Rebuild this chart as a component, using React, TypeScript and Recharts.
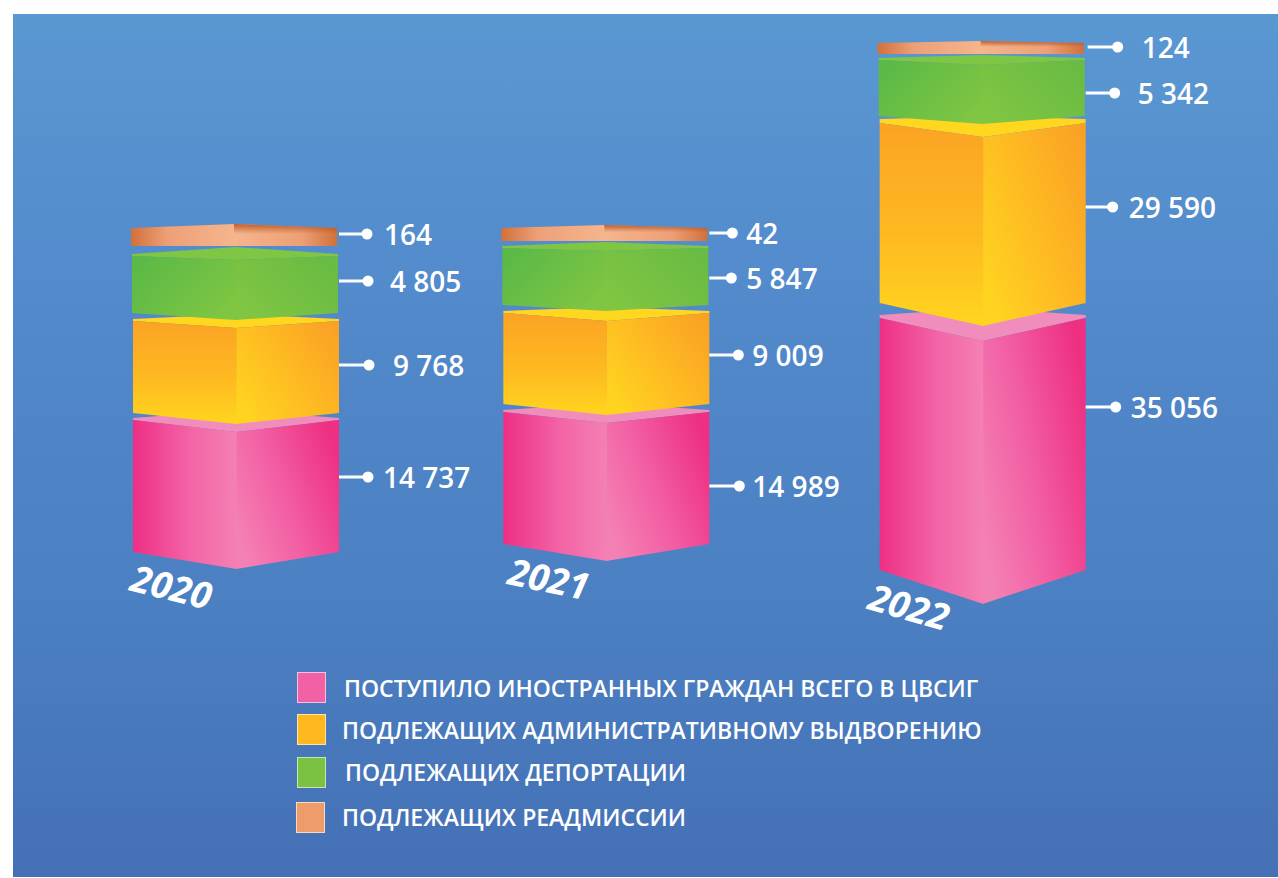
import React from 'react';
import { BarChart, Bar, XAxis, YAxis, Legend } from 'recharts';

const years = ['2020', '2021', '2022'];

// values printed next to the blocks
const receivedValues = [14737, 14989, 35056];
const expulsionValues = [9768, 9009, 29590];
const deportationValues = [4805, 5847, 5342];
const readmissionValues = [164, 42, 124];

// The source picture does not draw its blocks to scale, so block heights are
// read off the picture separately (axis units) instead of derived from the values.
const liftHeights = [48, 56, 30];
const receivedHeights = [134, 134, 255];
const expulsionGaps = [5, 6, 12];
const expulsionHeights = [94, 93, 184];
const deportationGaps = [6, 6, 3];
const deportationHeights = [59, 59, 58];
const readmissionGaps = [8, 5, 4];
const readmissionHeights = [18, 13, 11];

const legendLabels = [
  'ПОСТУПИЛО ИНОСТРАННЫХ ГРАЖДАН ВСЕГО В ЦВСИГ',
  'ПОДЛЕЖАЩИХ АДМИНИСТРАТИВНОМУ ВЫДВОРЕНИЮ',
  'ПОДЛЕЖАЩИХ ДЕПОРТАЦИИ',
  'ПОДЛЕЖАЩИХ РЕАДМИССИИ',
];

const data = years.map((year, i) => ({
  year,
  lift: liftHeights[i],
  received: receivedHeights[i],
  gapA: expulsionGaps[i],
  expulsion: expulsionHeights[i],
  gapB: deportationGaps[i],
  deportation: deportationHeights[i],
  gapC: readmissionGaps[i],
  readmission: readmissionHeights[i],
}));

const FONT = '"Open Sans", sans-serif';
const yearShift = [0, -3, 0];

const looks: Record<string, any> = {
  received: {
    values: receivedValues, id: 'pink', topFill: '#f08dbd', shift: 0, rim: [2, 2, 3],
    top: [14, 13, 26], bottom: [17, 17, 34], peak: [8, 7, 7],
    leaderDy: [-8, 9, -35.5], dotX: [29, 30, 30], textX: [44, 43, 45],
  },
  expulsion: {
    values: expulsionValues, id: 'orange', topFill: '#ffd71f', shift: 0, rim: [2, 2, 4],
    top: [9, 10, 18], bottom: [11, 11, 23], peak: [5, 4, 3],
    leaderDy: [-1, -2.5, -4], dotX: [30, 29, 27], textX: [54, 43, 43],
  },
  deportation: {
    values: deportationValues, id: 'green', topFill: '#7ec644', shift: -1, rim: [2, 2, 2],
    top: [6, 5, 7], bottom: [7, 6, 8], peak: [7, 4, 3],
    leaderDy: [-2.5, 2.5, 6], dotX: [29, 22, 29], textX: [51, 37, 52],
  },
  readmission: {
    values: readmissionValues, id: 'peach', topFill: '#f4ad82', shift: -2, rim: [0, 0, 0],
    top: [-4, -3, -2], bottom: [0, 0, 0], peak: [4, 3, 2],
    leaderDy: [-3, -1.5, -1.5], dotX: [28, 23, 32], textX: [45, 37, 56],
  },
};

const formatValue = (v: number) => String(v).replace(/\B(?=(\d{3})+$)/g, ' ');

const makeBlock = (key: string) => (props: any) => {
  const { x, y, width, height, index } = props;
  const look = looks[key];
  const left = x + yearShift[index] + look.shift;
  const right = left + width;
  const mid = left + width / 2;
  const bot = y + height;
  const rim = look.rim[index];
  const topV = y + look.top[index];
  const botV = bot + look.bottom[index];
  const lineY = y + height / 2 + look.leaderDy[index];
  const barRight = x + yearShift[index] + width;
  const value = look.values[index];
  return (
    <g>
      {look.top[index] > 0 && (
        <polygon
          points={`${left},${y} ${mid},${y - look.peak[index]} ${right},${y} ${right},${y + rim} ${mid},${topV} ${left},${y + rim}`}
          fill={look.topFill}
        />
      )}
      <polygon points={`${mid},${topV} ${right},${y + rim} ${right},${bot} ${mid},${botV}`} fill={`url(#${look.id}R)`} />
      {/* left face runs a hair past the ridge so no background shows along the seam */}
      <polygon
        points={`${left},${y + rim} ${mid + 0.6},${topV} ${mid + 0.6},${botV} ${left},${bot}`}
        fill={`url(#${look.id}L)`}
      />
      {key === 'readmission' && (
        <polygon points={`${mid},${topV} ${right},${y} ${right},${bot} ${mid},${bot}`} fill="url(#peachShade)" />
      )}
      <line
        x1={barRight + (index === 2 && key === 'readmission' ? 2 : 0)}
        x2={barRight + look.dotX[index]}
        y1={lineY}
        y2={lineY}
        stroke="#fff"
        strokeWidth={3}
      />
      <circle cx={barRight + look.dotX[index]} cy={lineY} r={5.5} fill="#fff" />
      <text
        x={barRight + look.textX[index]}
        y={lineY}
        dominantBaseline="central"
        fill="#fff"
        fontFamily={FONT}
        fontWeight={600}
        fontSize={28}
      >
        {formatValue(value)}
      </text>
    </g>
  );
};

const yearLabels = [
  { dx: -64, dy: -22, angle: 14 },
  { dx: -60, dy: -30, angle: 11.5 },
  { dx: -73, dy: -2, angle: 16 },
];

const YearTick = (props: any) => {
  const { x, y, payload, index } = props;
  const pos = yearLabels[index];
  const cx = x + pos.dx;
  const cy = y + pos.dy;
  return (
    <text
      x={cx}
      y={cy}
      textAnchor="middle"
      dominantBaseline="central"
      transform={`rotate(${pos.angle} ${cx} ${cy})`}
      fill="#fff"
      fontFamily={FONT}
      fontWeight={700}
      fontStyle="italic"
      fontSize={37}
    >
      {payload.value}
    </text>
  );
};

const legendRows = [
  { fill: '#f261a5', swatchX: 297, swatchY: 672, textX: 344, textY: 688 },
  { fill: '#ffb81f', swatchX: 297, swatchY: 714, textX: 342, textY: 730 },
  { fill: '#7cc242', swatchX: 297, swatchY: 757, textX: 345, textY: 772 },
  { fill: '#ee9c69', swatchX: 296, swatchY: 802, textX: 342, textY: 817 },
];

const LegendBlock = () => (
  <div style={{ position: 'relative', width: 1278, height: 878 }}>
    {legendRows.map((row, i) => (
      <React.Fragment key={legendLabels[i]}>
        <div
          style={{
            position: 'absolute',
            left: row.swatchX,
            top: row.swatchY,
            width: 29,
            height: 31,
            boxSizing: 'border-box',
            background: row.fill,
            border: '1.5px solid rgba(255,255,255,0.6)',
          }}
        />
        <div
          style={{
            position: 'absolute',
            left: row.textX,
            top: row.textY - 15,
            height: 30,
            lineHeight: '30px',
            whiteSpace: 'nowrap',
            color: '#fff',
            fontFamily: FONT,
            fontWeight: 600,
            fontSize: 23,
          }}
        >
          {legendLabels[i]}
        </div>
      </React.Fragment>
    ))}
  </div>
);

const hidden = { fill: 'none', stroke: 'none' };

export default function App() {
  return (
    <div style={{ position: 'absolute', left: 0, top: 0, width: 1278, height: 878, background: '#fff' }}>
      <div
        style={{
          position: 'absolute',
          left: 13,
          top: 14,
          width: 1265,
          height: 863,
          background: 'linear-gradient(180deg, #5a98d2 0%, #5289cb 35%, #4b80c2 68%, #4570b6 100%)',
        }}
      />
      <BarChart
        width={1278}
        height={878}
        data={data}
        barCategoryGap={0}
        barSize={206}
        margin={{ top: 0, right: 109, bottom: 248, left: 49 }}
        style={{ position: 'absolute', left: 0, top: 0 }}
      >
        <defs>
          <linearGradient id="pinkL" x1="0" y1="0" x2="1" y2="0">
            <stop offset="0%" stopColor="#ee2f85" />
            <stop offset="55%" stopColor="#f364a6" />
            <stop offset="100%" stopColor="#f480b4" />
          </linearGradient>
          <linearGradient id="pinkR" x1="0" y1="0.75" x2="1" y2="0.25">
            <stop offset="0%" stopColor="#f481b4" />
            <stop offset="45%" stopColor="#f25fa4" />
            <stop offset="100%" stopColor="#ee2f82" />
          </linearGradient>
          <linearGradient id="orangeL" x1="0" y1="0" x2="0" y2="1">
            <stop offset="0%" stopColor="#fba324" />
            <stop offset="55%" stopColor="#feb921" />
            <stop offset="100%" stopColor="#ffd51f" />
          </linearGradient>
          <linearGradient id="orangeR" x1="0" y1="0.8" x2="1" y2="0.1">
            <stop offset="0%" stopColor="#ffd420" />
            <stop offset="50%" stopColor="#feba22" />
            <stop offset="100%" stopColor="#faa125" />
          </linearGradient>
          <linearGradient id="greenL" x1="0" y1="0.2" x2="1" y2="0.8">
            <stop offset="0%" stopColor="#5bb947" />
            <stop offset="100%" stopColor="#80c642" />
          </linearGradient>
          <linearGradient id="greenR" x1="0" y1="0.8" x2="1" y2="0.2">
            <stop offset="0%" stopColor="#80c642" />
            <stop offset="100%" stopColor="#69bb43" />
          </linearGradient>
          <linearGradient id="peachL" x1="0" y1="0" x2="1" y2="0">
            <stop offset="0%" stopColor="#d2703a" />
            <stop offset="35%" stopColor="#eda077" />
            <stop offset="100%" stopColor="#f6b58d" />
          </linearGradient>
          <linearGradient id="peachR" x1="0" y1="0" x2="1" y2="0">
            <stop offset="0%" stopColor="#f6b58d" />
            <stop offset="65%" stopColor="#eda077" />
            <stop offset="100%" stopColor="#d2703a" />
          </linearGradient>
          <linearGradient id="peachShade" x1="0" y1="0" x2="0" y2="1">
            <stop offset="0%" stopColor="#b5501b" stopOpacity={0.85} />
            <stop offset="45%" stopColor="#b5501b" stopOpacity={0} />
          </linearGradient>
        </defs>
        <XAxis
          dataKey="year"
          height={30}
          axisLine={false}
          tickLine={false}
          interval={0}
          tick={<YearTick />}
        />
        <YAxis hide domain={[0, 600]} />
        <Bar dataKey="lift" stackId="s" {...hidden} isAnimationActive={false} />
        <Bar dataKey="received" stackId="s" shape={makeBlock('received')} isAnimationActive={false} />
        <Bar dataKey="gapA" stackId="s" {...hidden} isAnimationActive={false} />
        <Bar dataKey="expulsion" stackId="s" shape={makeBlock('expulsion')} isAnimationActive={false} />
        <Bar dataKey="gapB" stackId="s" {...hidden} isAnimationActive={false} />
        <Bar dataKey="deportation" stackId="s" shape={makeBlock('deportation')} isAnimationActive={false} />
        <Bar dataKey="gapC" stackId="s" {...hidden} isAnimationActive={false} />
        <Bar dataKey="readmission" stackId="s" shape={makeBlock('readmission')} isAnimationActive={false} />
        <Legend
          layout="vertical"
          align="center"
          verticalAlign="middle"
          content={<LegendBlock />}
          wrapperStyle={{ left: 0, top: 0, width: 1278, height: 878, pointerEvents: 'none' }}
        />
      </BarChart>
    </div>
  );
}
